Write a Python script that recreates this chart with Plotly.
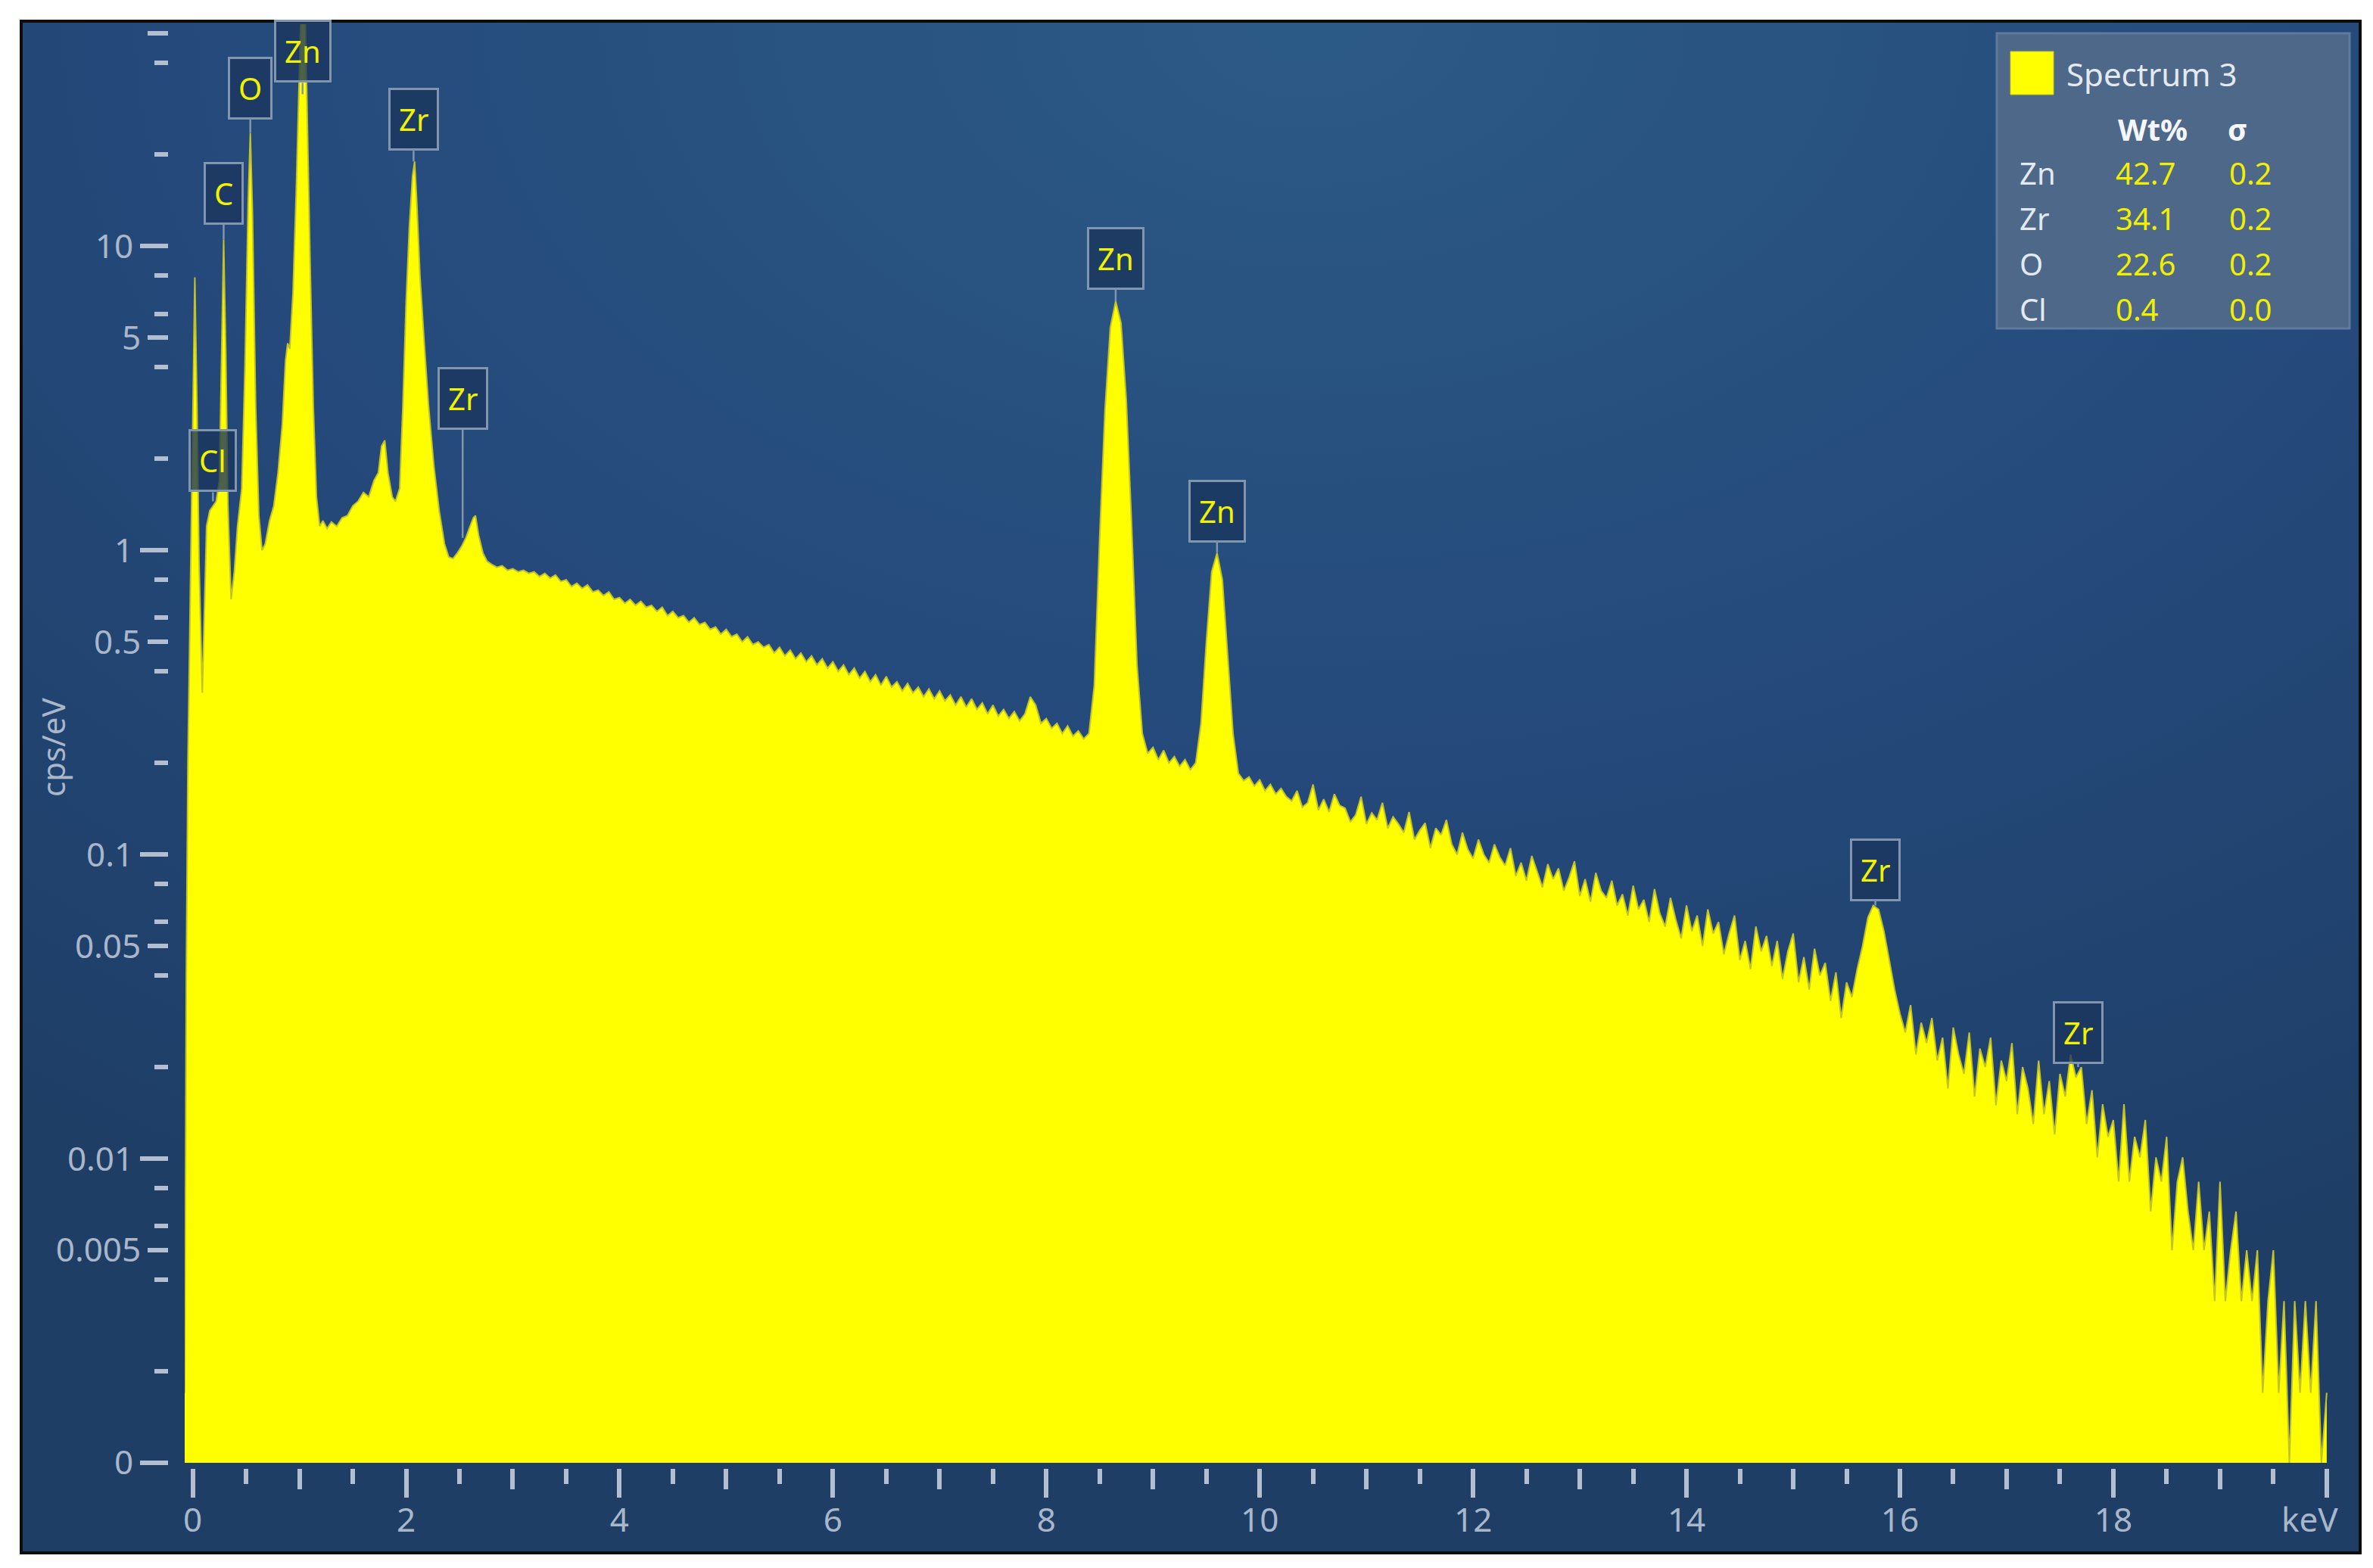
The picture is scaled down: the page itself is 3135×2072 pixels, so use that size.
import base64
import math
import plotly.graph_objects as go

# ---------------- data ----------------
SPECTRUM_NAME = "Spectrum 3"

# detailed low-energy part of the spectrum (keV, cps/eV)
low_energy_kev = [-0.075, -0.06, -0.045, -0.02, 0.00, 0.02, 0.04, 0.06, 0.09, 0.11,
                  0.13, 0.16, 0.19, 0.22, 0.25, 0.27, 0.29, 0.31, 0.33, 0.36,
                  0.39, 0.42, 0.46, 0.49, 0.52, 0.54, 0.56, 0.59, 0.62, 0.65,
                  0.68, 0.72, 0.76, 0.80, 0.84, 0.87, 0.89, 0.91, 0.94, 0.97,
                  1.00, 1.02, 1.05, 1.07, 1.10, 1.13, 1.16, 1.19, 1.22, 1.26,
                  1.30, 1.35, 1.40, 1.45, 1.50, 1.55, 1.60, 1.65, 1.70, 1.74,
                  1.77, 1.80, 1.83, 1.87, 1.90, 1.94, 1.97, 2.00, 2.03, 2.06,
                  2.08, 2.10, 2.13, 2.17, 2.21, 2.26, 2.31, 2.36, 2.40, 2.44,
                  2.48, 2.52, 2.56, 2.60, 2.63, 2.65, 2.68, 2.72, 2.76, 2.80,
                  2.85, 2.90, 2.95, 3.00, 3.05, 3.10, 3.15, 3.20, 3.25]
low_cps = [0.0017, 0.04, 0.2, 0.9, 3.0, 7.9, 3.0, 0.9, 0.34, 0.6,
           1.2, 1.35, 1.4, 1.45, 1.7, 4.0, 10.5, 4.5, 1.4, 0.69,
           0.85, 1.2, 1.6, 4.0, 14.0, 23.6, 13.0, 3.0, 1.3, 1.0,
           1.05, 1.25, 1.4, 1.8, 2.6, 4.2, 4.8, 4.6, 7.0, 15.0,
           40.0, 70.0, 70.0, 30.0, 9.0, 3.0, 1.5, 1.2, 1.25, 1.18,
           1.24, 1.2, 1.28, 1.3, 1.4, 1.45, 1.55, 1.5, 1.7, 1.8,
           2.2, 2.3, 1.8, 1.5, 1.45, 1.6, 3.0, 6.5, 11.5, 17.0,
           19.0, 14.0, 8.0, 4.8, 3.0, 1.9, 1.35, 1.05, 0.95, 0.94,
           0.98, 1.03, 1.1, 1.2, 1.28, 1.3, 1.12, 0.98, 0.92, 0.90,
           0.88, 0.89, 0.86, 0.87, 0.85, 0.86, 0.84, 0.85, 0.82]

# remaining channels: energy calibration (offset + channel width) and counts
GRID_START_KEV = 3.30
GRID_STEP_KEV = 0.05
grid_cps = [
    0.84, 0.81, 0.83, 0.79, 0.80, 0.76, 0.78, 0.75, 0.77, 0.73,        # 3.30
    0.74, 0.71, 0.73, 0.69, 0.70, 0.67, 0.69, 0.66, 0.68, 0.65,        # 3.80
    0.66, 0.63, 0.65, 0.61, 0.63, 0.60, 0.61, 0.58, 0.60, 0.57,        # 4.30
    0.58, 0.55, 0.56, 0.53, 0.55, 0.52, 0.53, 0.50, 0.52, 0.49,        # 4.80
    0.50, 0.48, 0.49, 0.46, 0.48, 0.45, 0.47, 0.44, 0.46, 0.43,        # 5.30
    0.45, 0.42, 0.44, 0.41, 0.43, 0.40, 0.42, 0.39, 0.41, 0.38,        # 5.80
    0.40, 0.37, 0.39, 0.36, 0.385, 0.355, 0.37, 0.345, 0.365, 0.34,    # 6.30
    0.355, 0.33, 0.35, 0.325, 0.345, 0.32, 0.335, 0.31, 0.33, 0.305,   # 6.80
    0.325, 0.30, 0.315, 0.29, 0.31, 0.285, 0.30, 0.28, 0.295, 0.275,   # 7.30
    0.29, 0.33, 0.31, 0.27, 0.28, 0.26, 0.27, 0.25, 0.265, 0.245,      # 7.80
    0.255, 0.24, 0.25, 0.36, 1.1, 2.9, 5.4, 6.6, 5.6, 3.1,             # 8.30
    1.2, 0.42, 0.25, 0.215, 0.225, 0.205, 0.22, 0.20, 0.21, 0.195,     # 8.80
    0.205, 0.19, 0.20, 0.27, 0.5, 0.85, 0.98, 0.8, 0.45, 0.25,         # 9.30
    0.185, 0.175, 0.18, 0.168, 0.176, 0.162, 0.17, 0.158, 0.165, 0.155,  # 9.80
    0.15, 0.162, 0.143, 0.148, 0.17, 0.14, 0.152, 0.138, 0.158, 0.145,   # 10.30
    0.142, 0.128, 0.135, 0.155, 0.126, 0.137, 0.13, 0.148, 0.122, 0.133, # 10.80
    0.126, 0.118, 0.138, 0.112, 0.12, 0.127, 0.105, 0.122, 0.116, 0.13,  # 11.30
    0.108, 0.10, 0.118, 0.104, 0.097, 0.112, 0.10, 0.094, 0.108, 0.098,  # 11.80
    0.092, 0.105, 0.085, 0.094, 0.082, 0.099, 0.088, 0.078, 0.093, 0.083,  # 12.30
    0.09, 0.076, 0.084, 0.095, 0.073, 0.083, 0.07, 0.087, 0.076, 0.072,    # 12.80
    0.082, 0.068, 0.074, 0.063, 0.079, 0.066, 0.071, 0.06, 0.077, 0.064,  # 13.30
    0.058, 0.072, 0.061, 0.053, 0.068, 0.056, 0.063, 0.05, 0.066, 0.055,  # 13.80
    0.06, 0.047, 0.055, 0.063, 0.045, 0.052, 0.042, 0.058, 0.048, 0.054,  # 14.30
    0.043, 0.052, 0.039, 0.048, 0.055, 0.038, 0.046, 0.036, 0.049, 0.04,  # 14.80
    0.044, 0.033, 0.041, 0.029, 0.038, 0.034, 0.042, 0.05, 0.062, 0.068,  # 15.30
    0.066, 0.056, 0.045, 0.036, 0.03, 0.026, 0.032, 0.022, 0.028, 0.024,  # 15.80
    0.029, 0.021, 0.025, 0.017, 0.027, 0.022, 0.019, 0.026, 0.016, 0.023,  # 16.30
    0.02, 0.025, 0.015, 0.021, 0.018, 0.024, 0.014, 0.02, 0.017, 0.013,    # 16.80
    0.021, 0.014, 0.018, 0.012, 0.019, 0.016, 0.022, 0.0185, 0.02, 0.013,  # 17.30
    0.0168, 0.0101, 0.0151, 0.0118, 0.0134, 0.0084, 0.0151, 0.0084, 0.0118, 0.0101,  # 17.80
    0.0134, 0.0067, 0.0101, 0.0084, 0.0118, 0.005, 0.0084, 0.0101, 0.0067, 0.005,    # 18.30
    0.0084, 0.005, 0.0067, 0.0034, 0.0084, 0.0034, 0.005, 0.0067, 0.0034, 0.005,     # 18.80
    0.0034, 0.005, 0.0017, 0.0034, 0.005, 0.0017, 0.0034, 0.0, 0.0034, 0.0017,       # 19.30
    0.0034, 0.0017, 0.0034, 0.0, 0.0017,                                              # 19.80
]

# peak identification labels
peak_labels = ["Cl", "C", "O", "Zn", "Zr", "Zr", "Zn", "Zn", "Zr", "Zr"]
peak_energy_kev = [0.19, 0.29, 0.54, 1.03, 2.07, 2.53, 8.65, 9.60, 15.77, 17.67]

# quantification table
quant_elements = ["Zn", "Zr", "O", "Cl"]
quant_wt = [42.7, 34.1, 22.6, 0.4]
quant_sigma = [0.2, 0.2, 0.2, 0.0]

# axis ticks
x_major_ticks = [0, 2, 4, 6, 8, 10, 12, 14, 16, 18, 20]
x_major_text = ["0", "2", "4", "6", "8", "10", "12", "14", "16", "18", ""]
X_UNIT = "keV"
x_mid_ticks = [1, 3, 5, 7, 9, 11, 13, 15, 17, 19]
x_minor_ticks = [0.5, 1.5, 2.5, 3.5, 4.5, 5.5, 6.5, 7.5, 8.5, 9.5,
                 10.5, 11.5, 12.5, 13.5, 14.5, 15.5, 16.5, 17.5, 18.5, 19.5]
y_major_ticks = [0.001, 0.01, 0.1, 1, 10]
y_major_text = ["0", "0.01", "0.1", "1", "10"]
y_half_ticks = [0.005, 0.05, 0.5, 5, 50]
y_half_text = ["0.005", "0.05", "0.5", "5", ""]
y_minor_ticks = [0.002, 0.004, 0.006, 0.008, 0.02, 0.04, 0.06, 0.08,
                 0.2, 0.4, 0.6, 0.8, 2, 4, 6, 8, 20, 40]
Y_TITLE = "cps/eV"

ZERO_LEVEL = 0.001   # position where the "0" tick sits on the log scale

# ---------------- assembly ----------------
assert len(low_energy_kev) == len(low_cps)
energy = list(low_energy_kev) + [round(GRID_START_KEV + i * GRID_STEP_KEV, 3)
                                 for i in range(len(grid_cps))]
cps = list(low_cps) + list(grid_cps)
cps_plot = [max(v, ZERO_LEVEL) for v in cps]

W, H = 3135, 2072
ML, MR, MT, MB = 214, 48, 24, 140
PW = W - ML - MR
PH = H - MT - MB


def px_x(X):
    return (X - ML) / PW


def px_y(Y):
    return (H - MB - Y) / PH


FONT = "Noto Sans"
TICK_COLOR = "#b3bfd1"
LABEL_COLOR = "#a9b7ca"
BOX_BORDER = "#8295af"
Y_TOP_LOG = 1.73
LABEL_CAP = 10 ** 1.5
label_offsets = [-12, -20, -18, -15, -14, -143, -15, -14, -6, -4]

fig = go.Figure()
fig.add_trace(go.Scatter(x=[energy[0], energy[-1]], y=[ZERO_LEVEL, ZERO_LEVEL],
                         mode="lines", line=dict(width=0), hoverinfo="skip",
                         showlegend=False))
fig.add_trace(go.Scatter(x=energy, y=cps_plot, mode="lines", fill="tonexty",
                         fillcolor="#ffff00", line=dict(color="#c2c22a", width=2),
                         name=SPECTRUM_NAME, showlegend=False))
# helper traces so that the secondary tick axes are drawn
fig.add_trace(go.Scatter(x=[energy[0], energy[-1]], y=[ZERO_LEVEL, ZERO_LEVEL],
                         xaxis="x2", yaxis="y", mode="lines", line=dict(width=0),
                         hoverinfo="skip", showlegend=False))
fig.add_trace(go.Scatter(x=[energy[0], energy[-1]], y=[ZERO_LEVEL, ZERO_LEVEL],
                         xaxis="x", yaxis="y2", mode="lines", line=dict(width=0),
                         hoverinfo="skip", showlegend=False))

tickfont = dict(family=FONT, size=44, color=LABEL_COLOR)
common = dict(showgrid=False, zeroline=False, showline=False, ticks="outside",
              tickcolor=TICK_COLOR, tickwidth=6, tickfont=tickfont, tickmode="array")
x_range = [-0.075, 20.15]
y_range = [math.log10(ZERO_LEVEL), Y_TOP_LOG]

# background gradient (style only)
svg = ('<svg xmlns="http://www.w3.org/2000/svg" width="400" height="260" '
       'viewBox="0 0 400 260" preserveAspectRatio="none"><defs>'
       '<radialGradient id="g" cx="0.55" cy="0.0" r="0.9">'
       '<stop offset="0" stop-color="#2c5a86"/>'
       '<stop offset="0.55" stop-color="#24497a"/>'
       '<stop offset="1" stop-color="#1e3e66"/>'
       '</radialGradient></defs>'
       '<rect width="400" height="260" fill="url(#g)"/></svg>')
svg_uri = "data:image/svg+xml;base64," + base64.b64encode(svg.encode()).decode()

fig.update_layout(
    width=W, height=H,
    margin=dict(l=ML, r=MR, t=MT, b=MB, pad=0),
    paper_bgcolor="white",
    plot_bgcolor="rgba(0,0,0,0)",
    showlegend=False,
    font=dict(family=FONT, color=LABEL_COLOR),
    xaxis=dict(**common, range=x_range, domain=[px_x(236), 1], anchor="free", position=0,
               tickvals=x_major_ticks, ticktext=x_major_text, ticklen=38,
               ticklabelstandoff=-8,
               minor=dict(tickmode="array", tickvals=x_minor_ticks, ticklen=20,
                          tickwidth=6, tickcolor=TICK_COLOR, ticks="outside", showgrid=False)),
    xaxis2=dict(**common, range=x_range, overlaying="x", anchor="free", position=0,
                tickvals=x_mid_ticks, ticklen=27, showticklabels=False),
    yaxis=dict(**common, type="log", range=y_range, domain=[px_y(1925), 1],
               anchor="free", position=0,
               tickvals=y_major_ticks, ticktext=y_major_text, ticklen=37,
               minor=dict(tickmode="array", tickvals=y_minor_ticks, ticklen=18,
                          tickwidth=6, tickcolor=TICK_COLOR, ticks="outside", showgrid=False)),
    yaxis2=dict(**common, type="log", range=y_range, overlaying="y", anchor="free",
                position=0, tickvals=y_half_ticks, ticktext=y_half_text, ticklen=27),
    images=[dict(source=svg_uri, xref="paper", yref="paper",
                 x=px_x(20), y=px_y(20), sizex=(3110 - 20) / PW, sizey=(2044 - 20) / PH,
                 xanchor="left", yanchor="top", sizing="stretch", layer="below")],
)

# outer frame
fig.add_shape(type="rect", xref="paper", yref="paper",
              x0=px_x(20), x1=px_x(3110), y0=px_y(2044), y1=px_y(20),
              line=dict(color="#0c0c0c", width=4), layer="above")

# y axis title and x unit
fig.add_annotation(text=Y_TITLE, xref="paper", yref="paper", x=px_x(62), y=px_y(980),
                   xanchor="center", yanchor="middle", textangle=-90, showarrow=False,
                   font=dict(family=FONT, size=42, color=LABEL_COLOR))
fig.add_annotation(text=X_UNIT, xref="x", yref="paper", x=x_major_ticks[-1], y=px_y(1999),
                   xshift=-22, xanchor="center", yanchor="middle", showarrow=False,
                   font=dict(family=FONT, size=44, color=LABEL_COLOR))

# peak labels
for lab, e, ay in zip(peak_labels, peak_energy_kev, label_offsets):
    near = [v for x, v in zip(energy, cps_plot) if abs(x - e) <= 0.031]
    tip = min(max(near), LABEL_CAP)
    fig.add_annotation(x=e, y=math.log10(tip), xref="x", yref="y", text=lab,
                       showarrow=True, arrowhead=0, arrowwidth=2.5, arrowcolor=BOX_BORDER,
                       ax=0, ay=ay, standoff=0, xanchor="center", yanchor="bottom",
                       bgcolor="rgba(26,54,92,0.78)", bordercolor=BOX_BORDER,
                       borderwidth=3, borderpad=11,
                       font=dict(family=FONT, size=40, color="#f2f200"))

# quantification legend box
fig.add_shape(type="rect", xref="paper", yref="paper",
              x0=px_x(2630), x1=px_x(3096), y0=px_y(426), y1=px_y(36),
              fillcolor="#4d6889", line=dict(color="#5f7a9a", width=3), layer="above")
fig.add_shape(type="rect", xref="paper", yref="paper",
              x0=px_x(2648), x1=px_x(2705), y0=px_y(117), y1=px_y(60),
              fillcolor="#ffff00", line=dict(color="#c9c92a", width=1), layer="above")
fig.add_annotation(text=SPECTRUM_NAME, xref="paper", yref="paper", x=px_x(2720), y=px_y(90),
                   xanchor="left", yanchor="middle", showarrow=False,
                   font=dict(family=FONT, size=42, color="#e4e9f0"))
fig.add_annotation(text="<b>Wt%</b>", xref="paper", yref="paper", x=px_x(2836), y=px_y(163),
                   xanchor="center", yanchor="middle", showarrow=False,
                   font=dict(family=FONT, size=40, color="#f4f6f9"))
fig.add_annotation(text="<b>σ</b>", xref="paper", yref="paper", x=px_x(2948), y=px_y(163),
                   xanchor="center", yanchor="middle", showarrow=False,
                   font=dict(family=FONT, size=40, color="#f4f6f9"))
for i, (el, wt, sg) in enumerate(zip(quant_elements, quant_wt, quant_sigma)):
    yy = px_y(220 + 60 * i)
    fig.add_annotation(text=el, xref="paper", yref="paper", x=px_x(2658), y=yy,
                       xanchor="left", yanchor="middle", showarrow=False,
                       font=dict(family=FONT, size=40, color="#e4e9f0"))
    fig.add_annotation(text=f"{wt:.1f}", xref="paper", yref="paper", x=px_x(2785), y=yy,
                       xanchor="left", yanchor="middle", showarrow=False,
                       font=dict(family=FONT, size=40, color="#f0f000"))
    fig.add_annotation(text=f"{sg:.1f}", xref="paper", yref="paper", x=px_x(2935), y=yy,
                       xanchor="left", yanchor="middle", showarrow=False,
                       font=dict(family=FONT, size=40, color="#f0f000"))

fig.write_html("out.html")
